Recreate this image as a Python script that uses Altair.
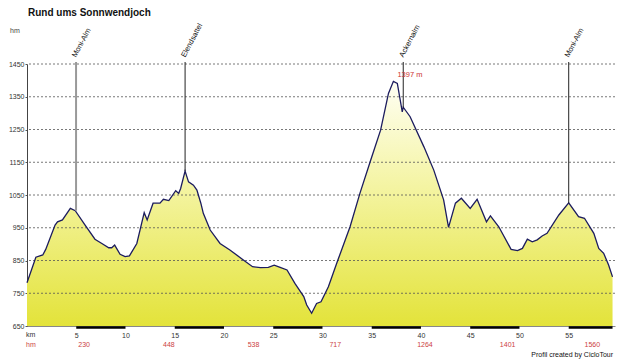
import altair as alt
import pandas as pd

FONT = "Liberation Sans"

# Profile (distance in km, elevation in m)
km = [0, 0.9, 1.6, 1.9, 2.85, 3.1, 3.6, 4.4, 4.9, 5.9, 6.9, 7.6, 8.3, 8.6, 8.9, 9.45, 9.96, 10.4,
      11.15, 11.9, 12.2, 12.8, 13.5, 13.85, 14.4, 15.1, 15.4, 15.6, 16.05, 16.4, 16.9, 17.25, 17.65,
      17.9, 18.6, 19.6, 20.6, 22.0, 22.9, 23.7, 24.5, 25.1, 25.7, 26.4, 27.2, 28.1, 28.4, 28.9, 29.4,
      29.85, 30.6, 31.5, 32.8, 33.8, 34.9, 35.9, 36.7, 37.2, 37.6, 38.1, 38.2, 38.9, 40.3, 41.3, 42.3,
      42.8, 43.5, 44.1, 45.0, 45.7, 46.65, 47.05, 47.9, 49.15, 49.8, 50.3, 50.8, 51.3, 51.8, 52.3,
      52.8, 54.0, 55.0, 56.0, 56.6, 57.55, 58.05, 58.55, 59.05, 59.45]
elev = [782, 860, 867, 884, 958, 968, 974, 1009, 1002, 958, 915, 902, 889, 889, 897, 869, 862, 864,
        902, 996, 974, 1025, 1025, 1037, 1033, 1063, 1055, 1070, 1123, 1090, 1080, 1065, 1025,
        994, 943, 902, 882, 851, 831, 828, 829, 836, 829, 821, 780, 740, 714, 689, 719,
        724, 770, 846, 953, 1055, 1157, 1248, 1360, 1397, 1391, 1304, 1318, 1289, 1197, 1126, 1035,
        951, 1025, 1040, 1009, 1037, 968, 986, 953, 884, 880, 887, 915, 907, 913, 925,
        933, 989, 1026, 984, 979, 933, 887, 872, 836, 800]

# Waypoints
wp_names = ["Moni-Alm", "Elendsattel", "Ackernalm", "Moni-Alm"]
wp_km = [4.98, 16.05, 38.2, 55.0]
wp_elev = [1002, 1123, 1318, 1026]
wp_color = ["#999999", "#222222", "#222222", "#222222"]
wp_width = [2.0, 1.0, 1.0, 1.0]

# Cumulative climb labels (hm)
hm_km = [5.8, 14.4, 23.0, 31.3, 40.4, 48.8, 57.4]
hm_vals = ["230", "448", "538", "717", "1264", "1401", "1560"]

# Axis ticks
x_ticks = [5, 10, 15, 20, 25, 30, 35, 40, 45, 50, 55]
y_ticks = [650, 750, 850, 950, 1050, 1150, 1250, 1350, 1450]
grid_y = [750, 850, 950, 1050, 1150, 1250, 1350, 1450]
seg_start = [5, 15, 25, 35, 45, 55]
seg_end = [10, 20, 30, 40, 50, 59.45]

peak_km, peak_elev, peak_label = 37.2, 1397, "1397 m"

X_MAX = 59.7
Y_MIN, Y_MAX = 650, 1450
W, H = 588, 262

prof = pd.DataFrame({"km": km, "elev": elev})
wp = pd.DataFrame({"name": wp_names, "km": wp_km, "elev": wp_elev, "col": wp_color, "w": wp_width})
hm = pd.DataFrame({"km": hm_km, "v": hm_vals})
grid = pd.DataFrame({"y": grid_y})
segs = pd.DataFrame({"a": seg_start, "b": seg_end})

xs = alt.Scale(domain=[0, X_MAX], nice=False, zero=False)
ys = alt.Scale(domain=[Y_MIN, Y_MAX], nice=False, zero=False)

AX_X = alt.Axis(values=x_ticks, title=None, grid=False, ticks=False, labelPadding=5,
                labelFontSize=7, labelFont=FONT, labelColor="#333333",
                domainColor="#888888", domainWidth=1, labelOverlap=False)
AX_Y = alt.Axis(values=y_ticks, title=None, grid=False, tickSize=2, tickColor="#555555",
                labelPadding=1, labelFontSize=7, labelFont=FONT, format="d",
                labelColor="#333333", domainColor="#444444", domainWidth=1,
                labelOverlap=False, labelBound=False, labelFlush=False)

def X(field):
    return alt.X(field, scale=xs, axis=AX_X)

def Y(field):
    return alt.Y(field, scale=ys, axis=AX_Y)

base = alt.Chart(prof)

area = base.mark_area(
    color=alt.Gradient(
        gradient="linear",
        stops=[alt.GradientStop(color="#fffff4", offset=0),
               alt.GradientStop(color="#f5f5a8", offset=0.4),
               alt.GradientStop(color="#e3e33a", offset=1)],
        x1=0, x2=0, y1=0, y2=1),
    line=False,
).encode(x=X("km:Q"), y=Y("elev:Q"), y2=alt.Y2(datum=Y_MIN))

gridlines = alt.Chart(grid).mark_rule(color="#555555", strokeWidth=0.8, strokeDash=[2, 2]).encode(
    y=Y("y:Q")
)

line = base.mark_line(color="#1c1c5e", strokeWidth=1.3).encode(x=X("km:Q"), y=Y("elev:Q"))

bars = alt.Chart(segs).mark_rule(color="#000000", strokeWidth=2.5).encode(
    x=X("a:Q"), x2="b:Q", y=alt.value(H + 1.5)
)

wp_rules = alt.Chart(wp).mark_rule().encode(
    x=X("km:Q"), y=Y("elev:Q"), y2=alt.value(-2),
    color=alt.Color("col:N", scale=None), strokeWidth=alt.StrokeWidth("w:Q", scale=None)
)

wp_text = alt.Chart(wp).mark_text(angle=298, align="left", baseline="middle", fontSize=7.5,
                                  font=FONT, color="#111111", dx=2, dy=-3).encode(
    x=X("km:Q"), y=alt.value(-4), text="name:N"
)

peak = alt.Chart(pd.DataFrame({"km": [peak_km], "elev": [peak_elev], "t": [peak_label]})).mark_text(
    align="left", baseline="middle", fontSize=7.5, font=FONT, color="#cc3333", dx=4, dy=-6
).encode(x=X("km:Q"), y=Y("elev:Q"), text="t:N")

hm_text = alt.Chart(hm).mark_text(align="center", baseline="middle", fontSize=7, font=FONT,
                                  color="#cc3f3f").encode(
    x=X("km:Q"), y=alt.value(H + 19), text="v:N"
)

row_labels = alt.Chart(pd.DataFrame({"km": [0, 0], "t": ["km", "hm"], "c": ["#333333", "#cc3f3f"],
                                     "yy": [H + 9, H + 19]})).mark_text(
    align="left", baseline="middle", fontSize=7, font=FONT, dx=-1
).encode(x=X("km:Q"), y=alt.Y("yy:Q", scale=None), text="t:N",
         color=alt.Color("c:N", scale=None))

title = alt.Chart(pd.DataFrame({"t": ["Rund ums Sonnwendjoch"]})).mark_text(
    align="left", baseline="alphabetic", fontSize=10, fontWeight="bold", font=FONT, color="#111111"
).encode(x=alt.value(1), y=alt.value(-48), text="t:N")

unit = alt.Chart(pd.DataFrame({"t": ["hm"]})).mark_text(
    align="left", baseline="alphabetic", fontSize=7, font=FONT, color="#444444"
).encode(x=alt.value(-17), y=alt.value(-31), text="t:N")

footer = alt.Chart(pd.DataFrame({"t": ["Profil created by CicloTour"]})).mark_text(
    align="right", baseline="middle", fontSize=7, font=FONT, color="#111111"
).encode(x=alt.value(586), y=alt.value(H + 29), text="t:N")

chart = alt.layer(
    area, gridlines, line, bars, wp_rules, wp_text, peak, hm_text, row_labels, title, unit, footer
).properties(
    width=W, height=H,
    autosize=alt.AutoSizeParams(type="none"),
    padding={"left": 19, "top": 56, "right": 17, "bottom": 36},
    background="white",
).configure_view(stroke=None).configure_axis(labelOverlap=False)

chart.save("out.html", embed_options={"renderer": "svg", "actions": False})
